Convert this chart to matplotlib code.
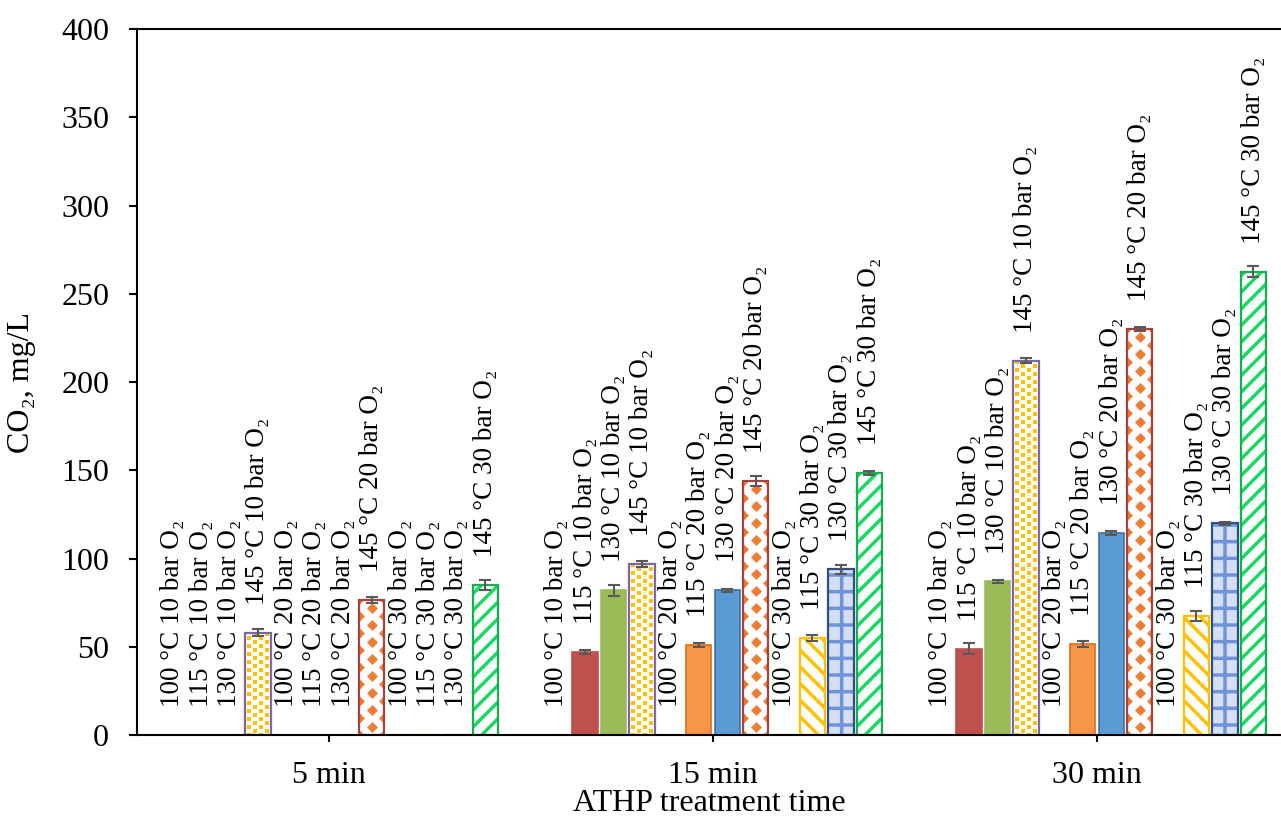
import matplotlib

matplotlib.use("Agg")
import matplotlib.pyplot as plt
import numpy as np

plt.rcParams["font.family"] = ["Liberation Serif", "DejaVu Serif"]
plt.rcParams["hatch.linewidth"] = 2.5

# CO2 (mg/L) per treatment time; zero where no measurement was taken
times = ["5 min", "15 min", "30 min"]
temps = [100, 115, 130, 145]
pressures = [10, 20, 30]

co2_10bar = {
    100: [0, 0, 0],
    115: [0, 47, 49],
    130: [0, 82, 87],
    145: [58, 97, 212],
}
co2_20bar = {
    100: [0, 0, 0],
    115: [0, 51, 51.5],
    130: [0, 82, 114.5],
    145: [76.5, 144, 230],
}
co2_30bar = {
    100: [0, 0, 0],
    115: [0, 55, 67.5],
    130: [0, 94, 120],
    145: [85, 148.5, 262.5],
}

err_10bar = {
    100: [0, 0, 0],
    115: [0, 1.2, 3],
    130: [0, 3, 1],
    145: [2, 1.7, 1.5],
}
err_20bar = {
    100: [0, 0, 0],
    115: [0, 1, 1.5],
    130: [0, 1, 1.2],
    145: [1.5, 3, 1],
}
err_30bar = {
    100: [0, 0, 0],
    115: [0, 1.5, 3],
    130: [0, 2.5, 0.8],
    145: [3, 1, 3],
}

co2 = {10: co2_10bar, 20: co2_20bar, 30: co2_30bar}
err = {10: err_10bar, 20: err_20bar, 30: err_30bar}

# fill styles: (kind, face/pattern colour, outline colour)
STYLES = {
    (100, 10): ("solid", "#C0504D", "#C0504D"),
    (115, 10): ("solid", "#C0504D", "#C0504D"),
    (130, 10): ("solid", "#9BBB59", "#9BBB59"),
    (145, 10): ("squares", "#FFC000", "#7A66A8"),
    (100, 20): ("solid", "#F79646", "#E46C0A"),
    (115, 20): ("solid", "#F79646", "#E46C0A"),
    (130, 20): ("solid", "#5B9BD5", "#41719C"),
    (145, 20): ("diamonds", "#ED7D31", "#A5423E"),
    (100, 30): ("hatch", "#FFC000", "#FFC000"),
    (115, 30): ("hatch", "#FFC000", "#FFC000"),
    (130, 30): ("check", "#7094D8", "#2F4F80"),
    (145, 30): ("stripes", "#1CD862", "#12B050"),
}

SLOT = 0.074
WIDTH = 0.066


def _stamp(ax, bar, marker, color, size, cols, step):
    """Repeat a marker inside a bar, every other column shifted half a step."""
    x0, w, h = bar.get_x(), bar.get_width(), bar.get_height()
    xs, ys = [], []
    for k in range(int(h / step) + 2):
        for j, fx in enumerate(cols):
            xs.append(x0 + fx * w)
            ys.append(k * step + (step / 2 if j % 2 else 0))
    sc = ax.scatter(xs, ys, marker=marker, s=size ** 2, c=color,
                    linewidths=0, zorder=2.1)
    sc.set_clip_path(bar)


fig = plt.figure(figsize=(12.81, 8.21), dpi=100)
ax = fig.add_axes([137 / 1281, 1 - 735 / 821, 1 - 137 / 1281, 706 / 821])

x_groups = np.arange(len(times))
slot = 0
for p in pressures:
    for t in temps:
        vals = np.array(co2[p][t], dtype=float)
        errs = np.array(err[p][t], dtype=float)
        kind, col, edge = STYLES[(t, p)]
        xs = x_groups + (slot - 5.5) * SLOT

        if kind == "solid":
            ax.bar(xs, vals, WIDTH, color=col, edgecolor=edge,
                   linewidth=1.2, zorder=2)
        else:
            ax.bar(xs, vals, WIDTH, edgecolor=edge, linewidth=1.6,
                   zorder=2.3, fill=False)
            if kind == "squares":
                base = ax.bar(xs, vals, WIDTH, color="white", linewidth=0, zorder=2)
                for b in base:
                    if b.get_height() > 0:
                        _stamp(ax, b, "s", col, 3.4,
                               [0.14, 0.38, 0.62, 0.86], 4.6)
            elif kind == "diamonds":
                base = ax.bar(xs, vals, WIDTH, color="white", linewidth=0, zorder=2)
                for b in base:
                    if b.get_height() > 0:
                        _stamp(ax, b, "D", col, 5.6, [0.0, 0.5, 1.0], 9.6)
            elif kind == "hatch":
                ax.bar(xs, vals, WIDTH, color="white", edgecolor=col,
                       linewidth=0, hatch="\\\\", zorder=2)
            elif kind == "check":
                ax.bar(xs, vals, WIDTH, color="#D4DEF4", edgecolor=col,
                       linewidth=0, hatch="+", zorder=2)
            elif kind == "stripes":
                ax.bar(xs, vals, WIDTH, color="white", edgecolor=col,
                       linewidth=0, hatch="//", zorder=2)

        has = vals > 0
        ax.errorbar(xs[has], vals[has], yerr=errs[has], fmt="none",
                    ecolor="#595959", elinewidth=1.5, capsize=4.5,
                    capthick=1.5, zorder=3)

        for x, v in zip(xs, vals):
            ax.annotate(f"{t} °C {p} bar O₂", (x, v), xytext=(0, 20),
                        textcoords="offset points", rotation=90,
                        ha="center", va="bottom", fontsize=19.5)
        slot += 1

ax.set_xlim(-0.5, -0.5 + (1281 - 137) / 384)
ax.set_ylim(0, 400)
ax.set_yticks(np.arange(0, 401, 50))
ax.set_xticks(x_groups)
ax.set_xticklabels(times)

for side in ("left", "bottom", "top"):
    ax.spines[side].set_linewidth(1.5)
ax.spines["right"].set_visible(False)

ax.tick_params(axis="y", direction="out", length=6, width=1.5,
               labelsize=23, pad=14)
ax.tick_params(axis="x", direction="out", length=5, width=1.5,
               labelsize=23, pad=14)

ax.set_ylabel("CO₂, mg/L", fontsize=23, labelpad=18)
ax.set_xlabel("ATHP treatment time", fontsize=23, labelpad=-1)

fig.savefig("out.png", dpi=100)
